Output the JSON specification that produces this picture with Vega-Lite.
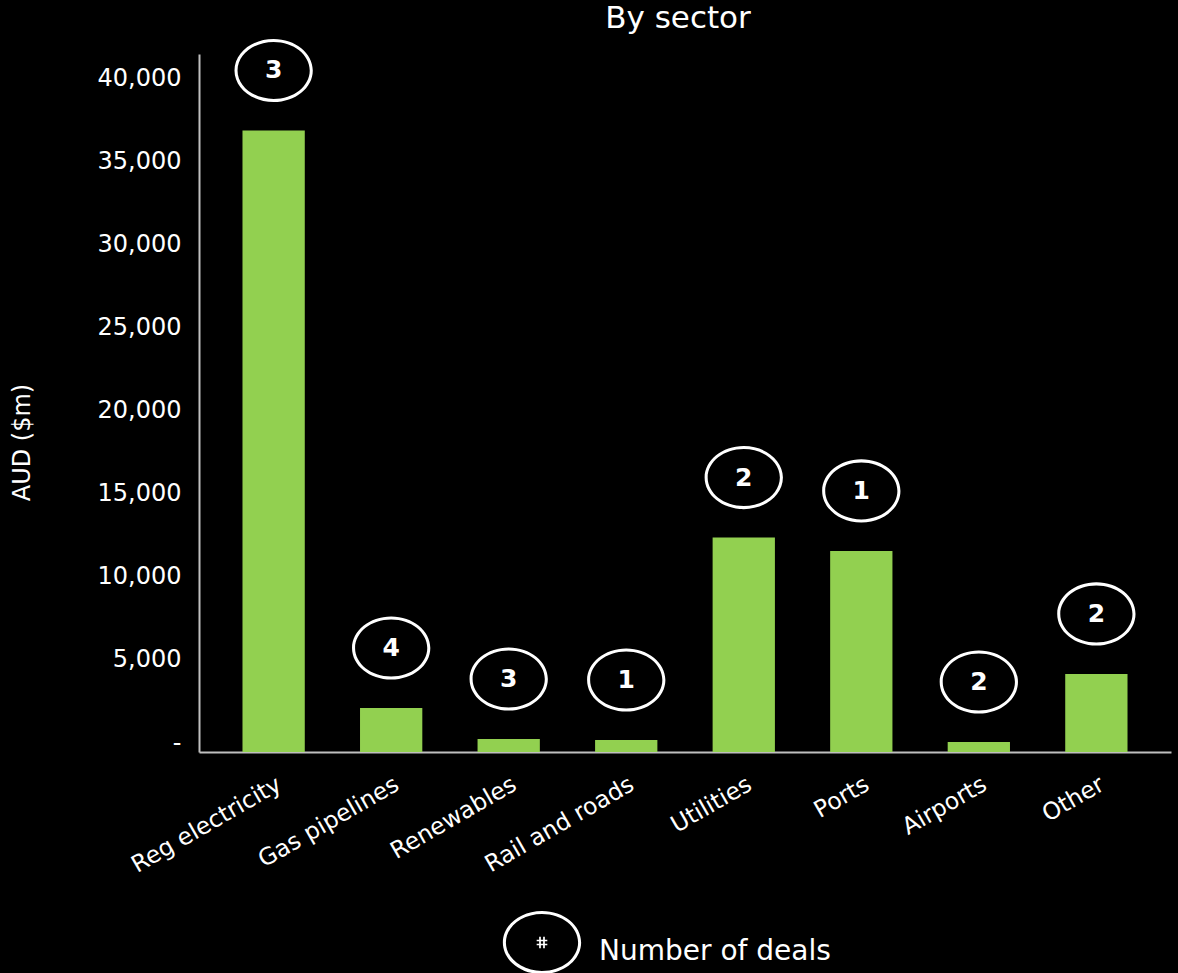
{
  "$schema": "https://vega.github.io/schema/vega-lite/v6.json",
  "width": 972,
  "height": 698,
  "autosize": {"type": "none"},
  "padding": {"left": 199, "top": 54, "right": 7, "bottom": 221},
  "background": "black",
  "title": {"text": "By sector", "color": "white", "fontSize": 31, "font": "DejaVu Sans", "fontWeight": "normal", "offset": 4, "dx": -7},
  "config": {"view": {"stroke": null}, "font": "DejaVu Sans"},
  "data": {
    "values": [
      {"sector": "Reg electricity", "value": 37400, "deals": 3},
      {"sector": "Gas pipelines", "value": 2650, "deals": 4},
      {"sector": "Renewables", "value": 780, "deals": 3},
      {"sector": "Rail and roads", "value": 720, "deals": 1},
      {"sector": "Utilities", "value": 12900, "deals": 2},
      {"sector": "Ports", "value": 12100, "deals": 1},
      {"sector": "Airports", "value": 600, "deals": 2},
      {"sector": "Other", "value": 4700, "deals": 2}
    ]
  },
  "encoding": {
    "x": {
      "field": "sector", "type": "nominal", "sort": null,
      "scale": {"paddingInner": 0.47, "paddingOuter": 0.37},
      "axis": {"title": null, "labelAngle": -30, "labelFontSize": 23.5, "labelColor": "white", "ticks": false, "labelPadding": 20, "labelLimit": 400, "domainColor": "#BFBFBF", "domainWidth": 2}
    },
    "y": {
      "field": "value", "type": "quantitative",
      "scale": {"domain": [0, 42000], "nice": false},
      "axis": {
        "title": "AUD ($m)", "titleColor": "white", "titleFontSize": 24, "titleFontWeight": "normal",
        "titleX": -177, "titleY": 388, "titleAngle": -90, "titleAlign": "center", "titleBaseline": "middle",
        "values": [0, 5000, 10000, 15000, 20000, 25000, 30000, 35000, 40000],
        "labelExpr": "datum.value == 0 ? '-' : format(datum.value, ',')",
        "labelColor": "white", "labelFontSize": 24, "labelPadding": 18, "labelOffset": -9,
        "ticks": false, "grid": false, "domainColor": "#BFBFBF", "domainWidth": 2
      }
    }
  },
  "layer": [
    {"mark": {"type": "bar", "color": "#92D050"}},
    {
      "mark": {
        "type": "point", "filled": true, "opacity": 1, "size": 5776, "yOffset": -60, "strokeWidth": 0,
        "shape": "M-1.03,0A1.03,0.83 0 1,0 1.03,0A1.03,0.83 0 1,0 -1.03,0ZM-0.95,0A0.95,0.75 0 1,1 0.95,0A0.95,0.75 0 1,1 -0.95,0Z"
      },
      "encoding": {
        "fill": {
          "datum": "Number of deals",
          "scale": {"range": ["white"]},
          "legend": {
            "title": null, "orient": "none", "legendX": 305, "legendY": 860, "padding": 0,
            "symbolSize": 5776, "symbolStrokeWidth": 0, "symbolOpacity": 1,
            "symbolType": "M-1.03,-0.25A1.03,0.83 0 1,0 1.03,-0.25A1.03,0.83 0 1,0 -1.03,-0.25ZM-0.95,-0.25A0.95,0.75 0 1,1 0.95,-0.25A0.95,0.75 0 1,1 -0.95,-0.25ZM-0.075,-0.4L-0.03,-0.4L-0.03,-0.1L-0.075,-0.1ZM0.03,-0.4L0.075,-0.4L0.075,-0.1L0.03,-0.1ZM-0.14,-0.325L0.14,-0.325L0.14,-0.28L-0.14,-0.28ZM-0.14,-0.22L0.14,-0.22L0.14,-0.175L-0.14,-0.175Z",
            "labelColor": "white", "labelFontSize": 28, "labelOffset": 19, "labelLimit": 500, "labelFont": "DejaVu Sans"
          }
        }
      }
    },
    {
      "mark": {"type": "text", "color": "white", "fontWeight": "bold", "fontSize": 25, "yOffset": -60, "baseline": "middle", "align": "center"},
      "encoding": {"text": {"field": "deals", "type": "quantitative"}}
    }
  ]
}
